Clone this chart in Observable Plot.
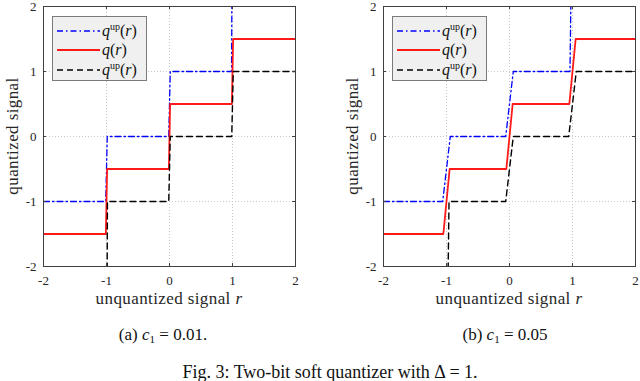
<!DOCTYPE html>
<html>
<head>
<meta charset="utf-8">
<script src="https://cdn.jsdelivr.net/npm/d3@7"></script>
<script src="https://cdn.jsdelivr.net/npm/@observablehq/plot@0.6"></script>
<style>
  html, body { margin: 0; padding: 0; background: #fff; }
  #wrap { position: relative; width: 640px; height: 381px; overflow: hidden; background: #fff;
          font-family: "Liberation Serif", "Times New Roman", serif; color: #222; }
  .panel { position: absolute; top: 0; width: 300px; height: 290px; }
  .panel svg { position: absolute; left: 0; top: 0; }
  .ylab { position: absolute; left: 13px; top: 136px; transform: translate(-50%, -50%) rotate(-90deg);
          white-space: nowrap; font-size: 17px; letter-spacing: 0.4px; color: #262626; }
  .xlab { position: absolute; left: 169px; top: 290px; transform: translateX(-50%); line-height: 1;
          white-space: nowrap; font-size: 17px; letter-spacing: 0.4px; color: #262626; }
  .legend { position: absolute; left: 52px; top: 16px; width: 93px; height: 63px;
            background: #f0f0f0; border: 1px solid #7a7a7a; }
  .legend .row { position: absolute; left: 4px; height: 18px; display: flex; align-items: center; }
  .legend .row svg { position: static; }
  .legend .lt { font-family: "Liberation Serif", serif; font-size: 16px; margin-left: 2px; white-space: nowrap; color: #111; }
  .legend .lt sup { font-size: 10px; font-style: normal; vertical-align: 0; position: relative; top: -6px; }
  .sub { position: absolute; top: 325px; transform: translateX(-50%); white-space: nowrap; font-size: 17px; color: #111; }
  .sub sub { font-size: 11px; vertical-align: 0; position: relative; top: 3px; }
  .cap { position: absolute; left: 330px; top: 362px; transform: translateX(-50%); white-space: nowrap; font-size: 18px; color: #111; }
</style>
</head>
<body>
<div id="wrap"></div>
<script>
// ---- data ----
const xTicks = [-2, -1, 0, 1, 2];
const yTicks = [-2, -1, 0, 1, 2];
const panelLabels = ["(a)", "(b)"];
const c1Values = ["0.01.", "0.05"];

// panel (a): c1 = 0.01
const aUpR = [-2, -1.012, -0.988, -0.012, 0.012, 0.985, 0.992];
const aUpQ = [-1, -1, 0, 0, 1, 1, 2.5];
const aQR  = [-2, -1.01, -0.99, -0.01, 0.01, 0.99, 1.01, 2];
const aQQ  = [-1.5, -1.5, -0.5, -0.5, 0.5, 0.5, 1.5, 1.5];
const aLoR = [-0.992, -0.985, -0.012, 0.012, 0.988, 1.012, 2];
const aLoQ = [-2.5, -1, -1, 0, 0, 1, 1];

// panel (b): c1 = 0.05
const bUpR = [-2, -1.06, -0.94, -0.06, 0.06, 0.96, 0.98];
const bUpQ = [-1, -1, 0, 0, 1, 1, 2.5];
const bQR  = [-2, -1.05, -0.95, -0.05, 0.05, 0.95, 1.05, 2];
const bQQ  = [-1.5, -1.5, -0.5, -0.5, 0.5, 0.5, 1.5, 1.5];
const bLoR = [-0.98, -0.96, -0.06, 0.06, 0.94, 1.06, 2];
const bLoQ = [-2.5, -1, -1, 0, 0, 1, 1];

const seriesNames = ["q^up(r)", "q(r)", "q^up(r)"];

// ---- styles ----
const styles = [
  {stroke: "#0000ff", strokeWidth: 1.3, strokeDasharray: "6,3,1.5,3"},
  {stroke: "#ff1a1a", strokeWidth: 1.8, strokeDasharray: null},
  {stroke: "#000000", strokeWidth: 1.4, strokeDasharray: "6,4"}
];

const toPts = (r, q) => d3.zip(r, q).map(([r, q]) => ({r, q}));

const panels = [
  {left: 0, series: [toPts(aUpR, aUpQ), toPts(aQR, aQQ), toPts(aLoR, aLoQ)]},
  {left: 340, series: [toPts(bUpR, bUpQ), toPts(bQR, bQQ), toPts(bLoR, bLoQ)]}
];

const W = 300, H = 290, ML = 43, MR = 5, MT = 6, MB = 24;
const innerW = W - ML - MR, innerH = H - MT - MB;
const wrap = document.getElementById("wrap");

function legendLabel(name) {
  if (name === "q(r)") return '<i>q</i>(<i>r</i>)';
  return '<i>q</i><sup>up</sup>(<i>r</i>)';
}

panels.forEach((p, i) => {
  const div = document.createElement("div");
  div.className = "panel";
  div.style.left = p.left + "px";
  wrap.appendChild(div);

  const chart = Plot.plot({
    width: W, height: H,
    marginLeft: ML, marginRight: MR, marginTop: MT, marginBottom: MB,
    x: {domain: [-2, 2]},
    y: {domain: [-2, 2]},
    style: {fontFamily: "Liberation Serif, serif", fontSize: "13px", color: "#262626", background: "transparent", overflow: "visible"},
    marks: [
      Plot.gridX(xTicks, {stroke: "#c8c8c8", strokeOpacity: 1, strokeDasharray: "1,2"}),
      Plot.gridY(yTicks, {stroke: "#c8c8c8", strokeOpacity: 1, strokeDasharray: "1,2"}),
      ...p.series.map((pts, k) => Plot.line(pts, {x: "r", y: "q", clip: true, ...styles[k]})),
      Plot.tickY(yTicks, {y: d => d, insetRight: innerW - 3, stroke: "#404040"}),
      Plot.tickY(yTicks, {y: d => d, insetLeft: innerW - 3, stroke: "#404040"}),
      Plot.tickX(xTicks, {x: d => d, insetTop: innerH - 3, stroke: "#404040"}),
      Plot.tickX(xTicks, {x: d => d, insetBottom: innerH - 3, stroke: "#404040"}),
      Plot.frame({stroke: "#404040", strokeWidth: 1}),
      Plot.axisX(xTicks, {tickSize: 0, tickPadding: 9, label: null, tickFormat: d => String(d), fontSize: 13}),
      Plot.axisY(yTicks, {tickSize: 0, tickPadding: 7, label: null, tickFormat: d => String(d), fontSize: 13})
    ]
  });
  div.appendChild(chart);

  const yl = document.createElement("div");
  yl.className = "ylab";
  yl.textContent = "quantized signal";
  div.appendChild(yl);

  const xl = document.createElement("div");
  xl.className = "xlab";
  xl.innerHTML = 'unquantized signal <i>r</i>';
  div.appendChild(xl);

  const lg = document.createElement("div");
  lg.className = "legend";
  const rowTops = [5, 24, 44];
  seriesNames.forEach((name, k) => {
    const s = styles[k];
    const row = document.createElement("div");
    row.className = "row";
    row.style.top = rowTops[k] + "px";
    row.innerHTML =
      `<svg width="43" height="8"><line x1="0" x2="43" y1="4" y2="4" stroke="${s.stroke}" stroke-width="${s.strokeWidth}" ${s.strokeDasharray ? `stroke-dasharray="${s.strokeDasharray}"` : ""}/></svg>` +
      `<span class="lt">${legendLabel(name)}</span>`;
    lg.appendChild(row);
  });
  div.appendChild(lg);
});

const subCenters = [163, 505];
panelLabels.forEach((lab, i) => {
  const s = document.createElement("div");
  s.className = "sub";
  s.style.left = subCenters[i] + "px";
  s.innerHTML = `${lab} <i>c</i><sub>1</sub> = ${c1Values[i]}`;
  wrap.appendChild(s);
});

const cap = document.createElement("div");
cap.className = "cap";
cap.textContent = "Fig. 3: Two-bit soft quantizer with Δ = 1.";
wrap.appendChild(cap);
</script>
</body>
</html>
